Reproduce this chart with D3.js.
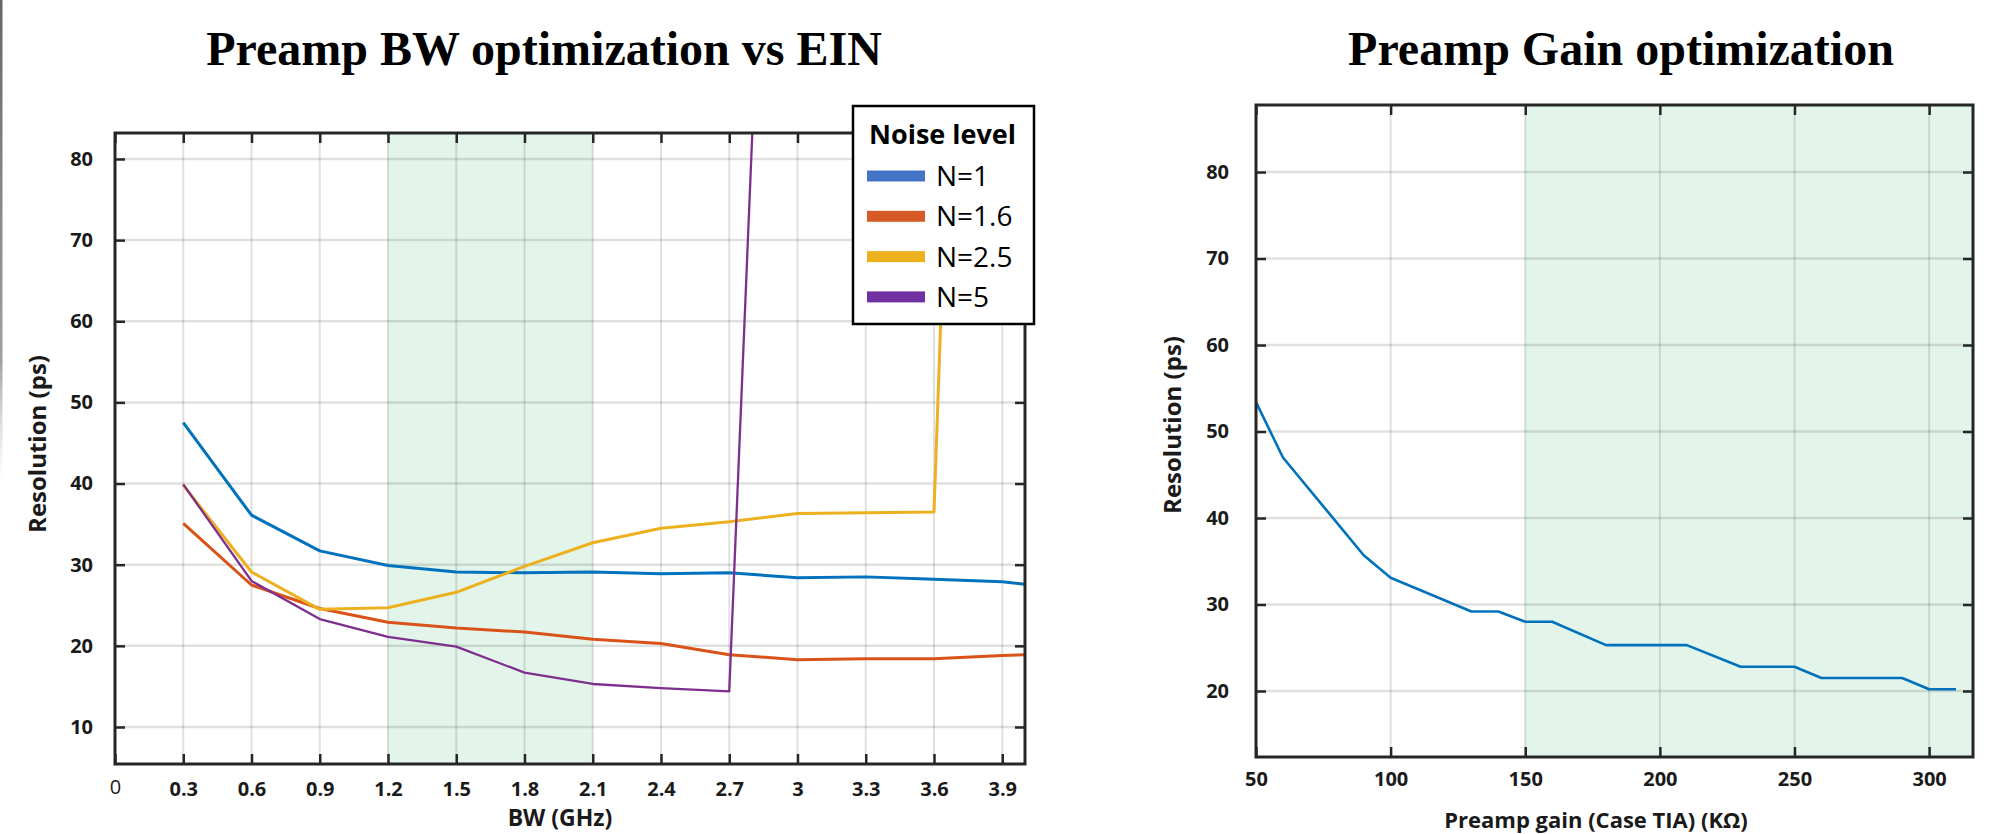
<!DOCTYPE html>
<html>
<head>
<meta charset="utf-8">
<script src="https://cdn.jsdelivr.net/npm/d3@7"></script>
<style>
  body { margin: 0; background: #fff; }
  svg { display: block; }
</style>
</head>
<body>
<script>
// ---- left chart: resolution vs preamp bandwidth, per noise level ----
const bwGHz = [0.3, 0.6, 0.9, 1.2, 1.5, 1.8, 2.1, 2.4, 2.7, 3.0, 3.3, 3.6, 3.9, 4.0];
const resN1 = [47.5, 36.1, 31.7, 29.9, 29.1, 29.0, 29.1, 28.9, 29.0, 28.4, 28.5, 28.2, 27.9, 27.6];
const resN16 = [35.1, 27.5, 24.6, 22.9, 22.2, 21.7, 20.8, 20.3, 18.9, 18.3, 18.4, 18.4, 18.8, 18.9];
const resN25 = [39.8, 29.1, 24.5, 24.7, 26.6, 29.8, 32.7, 34.5, 35.3, 36.3, 36.4, 36.5, 275, null];
const resN5 = [39.9, 28.0, 23.3, 21.1, 19.9, 16.7, 15.3, 14.8, 14.4, 218, null, null, null, null];
const noiseLabels = ["N=1", "N=1.6", "N=2.5", "N=5"];
const bwTicks = [0, 0.3, 0.6, 0.9, 1.2, 1.5, 1.8, 2.1, 2.4, 2.7, 3, 3.3, 3.6, 3.9];
const bwResTicks = [10, 20, 30, 40, 50, 60, 70, 80];
const bwBand = [1.2, 2.1];

// ---- right chart: resolution vs preamp gain ----
const gainKOhm = [50, 60, 90, 100, 130, 140, 150, 160, 180, 210, 230, 250, 260, 290, 300, 310];
const resGain = [53.4, 47.0, 35.7, 33.1, 29.2, 29.2, 28.0, 28.0, 25.3, 25.3, 22.8, 22.8, 21.5, 21.5, 20.2, 20.2];
const gainTicks = [50, 100, 150, 200, 250, 300];
const gainResTicks = [20, 30, 40, 50, 60, 70, 80];
const gainBand = [150, 316.3];

const lineColors = ["#0072BD", "#D95319", "#EDB120", "#7E2F8E"];
const legendColors = ["#4472C4", "#D75A27", "#EDB11E", "#7030A0"];

const width = 1990, height = 834;
const axisColor = "#262626";
const tickFont = "'Open Sans', 'DejaVu Sans', sans-serif";

const svg = d3.select("body").append("svg")
    .attr("width", width)
    .attr("height", height);

svg.append("defs");

// faint slide edge on the far left
const fade = svg.select("defs").append("linearGradient")
    .attr("id", "edge-fade").attr("x1", 0).attr("x2", 0).attr("y1", 0).attr("y2", 1);
fade.append("stop").attr("offset", "0%").attr("stop-color", "#666").attr("stop-opacity", 1);
fade.append("stop").attr("offset", "75%").attr("stop-color", "#888").attr("stop-opacity", 0.8);
fade.append("stop").attr("offset", "100%").attr("stop-color", "#bbb").attr("stop-opacity", 0);
svg.append("rect").attr("x", 0).attr("y", 0).attr("width", 2.5).attr("height", 480)
    .attr("fill", "url(#edge-fade)");

function drawPanel(p) {
    const x = d3.scaleLinear().domain(p.xDomain).range([p.left, p.right]);
    const y = d3.scaleLinear().domain(p.yDomain).range([p.bottom, p.top]);
    const g = svg.append("g");

    svg.select("defs").append("clipPath").attr("id", p.id + "-clip")
        .append("rect")
        .attr("x", p.left).attr("y", p.top)
        .attr("width", p.right - p.left).attr("height", p.bottom - p.top);

    // highlighted range
    g.append("rect")
        .attr("x", x(p.band[0]))
        .attr("y", p.top)
        .attr("width", x(p.band[1]) - x(p.band[0]))
        .attr("height", p.bottom - p.top)
        .attr("fill", "#e3f5ea");

    // grid
    const grid = g.append("g")
        .attr("stroke", "rgba(0,0,0,0.12)")
        .attr("stroke-width", 2);
    grid.selectAll(".gx")
        .data(p.xTicks.filter(t => t > p.xDomain[0] && t < p.xDomain[1]))
        .join("line")
        .attr("x1", d => x(d)).attr("x2", d => x(d))
        .attr("y1", p.top).attr("y2", p.bottom);
    grid.selectAll(".gy")
        .data(p.yTicks)
        .join("line")
        .attr("x1", p.left).attr("x2", p.right)
        .attr("y1", d => y(d)).attr("y2", d => y(d))
        .attr("stroke-width", 2.5);

    // data lines
    const line = d3.line()
        .defined(d => d[1] != null)
        .x(d => x(d[0]))
        .y(d => y(d[1]));
    g.append("g")
        .attr("clip-path", `url(#${p.id}-clip)`)
        .selectAll("path")
        .data(p.series)
        .join("path")
        .attr("d", s => line(s.xs.map((v, i) => [v, s.ys[i]])))
        .attr("fill", "none")
        .attr("stroke", s => s.color)
        .attr("stroke-width", s => s.width)
        .attr("stroke-linejoin", "round");

    // axes, ticks pointing inward on all four sides
    const styleAxis = a => {
        a.select(".domain").remove();
        a.selectAll(".tick line").attr("stroke", axisColor).attr("stroke-width", 2.5);
        a.selectAll(".tick text")
            .attr("fill", "#1a1a1a")
            .attr("font-family", tickFont)
            .attr("font-weight", 700)
            .attr("font-size", 20);
    };
    g.append("g")
        .attr("transform", `translate(0,${p.bottom})`)
        .call(d3.axisBottom(x).tickValues(p.xTicks).tickSize(-10).tickPadding(p.xPad).tickFormat(d => String(d)))
        .call(styleAxis)
        .call(a => a.selectAll(".tick").filter(d => d === 0).select("text")
            .attr("font-weight", 400).attr("y", p.xPad - 2));
    g.append("g")
        .attr("transform", `translate(0,${p.top})`)
        .call(d3.axisTop(x).tickValues(p.xTicks).tickSize(-10).tickFormat(""))
        .call(styleAxis);
    g.append("g")
        .attr("transform", `translate(${p.left},0)`)
        .call(d3.axisLeft(y).tickValues(p.yTicks).tickSize(-10).tickPadding(p.yPad))
        .call(styleAxis);
    g.append("g")
        .attr("transform", `translate(${p.right},0)`)
        .call(d3.axisRight(y).tickValues(p.yTicks).tickSize(-10).tickFormat(""))
        .call(styleAxis);

    // frame
    g.append("rect")
        .attr("x", p.left).attr("y", p.top)
        .attr("width", p.right - p.left).attr("height", p.bottom - p.top)
        .attr("fill", "none")
        .attr("stroke", axisColor)
        .attr("stroke-width", 3);

    // titles and axis labels
    svg.append("text")
        .attr("x", p.titleX).attr("y", 65)
        .attr("text-anchor", "middle")
        .attr("font-family", "'Liberation Serif', 'Times New Roman', serif")
        .attr("font-weight", 700)
        .attr("font-size", 48)
        .text(p.title);
    svg.append("text")
        .attr("x", p.xLabelX).attr("y", p.xLabelY)
        .attr("text-anchor", "middle")
        .attr("font-family", tickFont)
        .attr("font-weight", 700)
        .attr("font-size", p.xLabelSize)
        .attr("fill", "#1a1a1a")
        .text(p.xLabel);
    svg.append("text")
        .attr("transform", `translate(${p.yLabelX},${p.yLabelY}) rotate(-90)`)
        .attr("text-anchor", "middle")
        .attr("dy", "0.35em")
        .attr("font-family", tickFont)
        .attr("font-weight", 700)
        .attr("font-size", 24)
        .attr("fill", "#1a1a1a")
        .text("Resolution (ps)");
}

drawPanel({
    id: "bw",
    left: 115, right: 1025, top: 133, bottom: 764,
    xDomain: [0, 4], yDomain: [5.44, 83.2],
    xTicks: bwTicks, yTicks: bwResTicks, band: bwBand,
    xPad: 18, yPad: 22,
    series: [resN1, resN16, resN25, resN5].map((ys, i) => ({
        xs: bwGHz, ys, color: lineColors[i], width: i === 3 ? 2.3 : 3
    })),
    title: "Preamp BW optimization vs EIN", titleX: 544,
    xLabel: "BW (GHz)", xLabelX: 560, xLabelY: 826, xLabelSize: 23,
    yLabelX: 38, yLabelY: 444
});

drawPanel({
    id: "gain",
    left: 1256, right: 1973, top: 105, bottom: 757,
    xDomain: [50, 316.3], yDomain: [12.37, 87.75],
    xTicks: gainTicks, yTicks: gainResTicks, band: gainBand,
    xPad: 15, yPad: 27,
    series: [{ xs: gainKOhm, ys: resGain, color: lineColors[0], width: 2.6 }],
    title: "Preamp Gain optimization", titleX: 1621,
    xLabel: "Preamp gain (Case TIA) (K\u03A9)", xLabelX: 1596, xLabelY: 828, xLabelSize: 22,
    yLabelX: 1173, yLabelY: 425
});

// legend of the left chart
const legend = svg.append("g").attr("transform", "translate(853,106)");
legend.append("rect")
    .attr("width", 181).attr("height", 218)
    .attr("fill", "#fff")
    .attr("stroke", "#000")
    .attr("stroke-width", 2.5);
legend.append("text")
    .attr("x", 16).attr("y", 38)
    .attr("font-family", tickFont)
    .attr("font-weight", 700)
    .attr("font-size", 27)
    .text("Noise level");
const item = legend.selectAll(".item")
    .data(noiseLabels)
    .join("g")
    .attr("transform", (d, i) => `translate(0,${70 + i * 40.3})`);
item.append("rect")
    .attr("x", 14).attr("y", -5.5)
    .attr("width", 58).attr("height", 11)
    .attr("fill", (d, i) => legendColors[i]);
item.append("text")
    .attr("x", 83).attr("dy", "0.36em")
    .attr("font-family", tickFont)
    .attr("font-size", 28)
    .text(d => d);
</script>
</body>
</html>
